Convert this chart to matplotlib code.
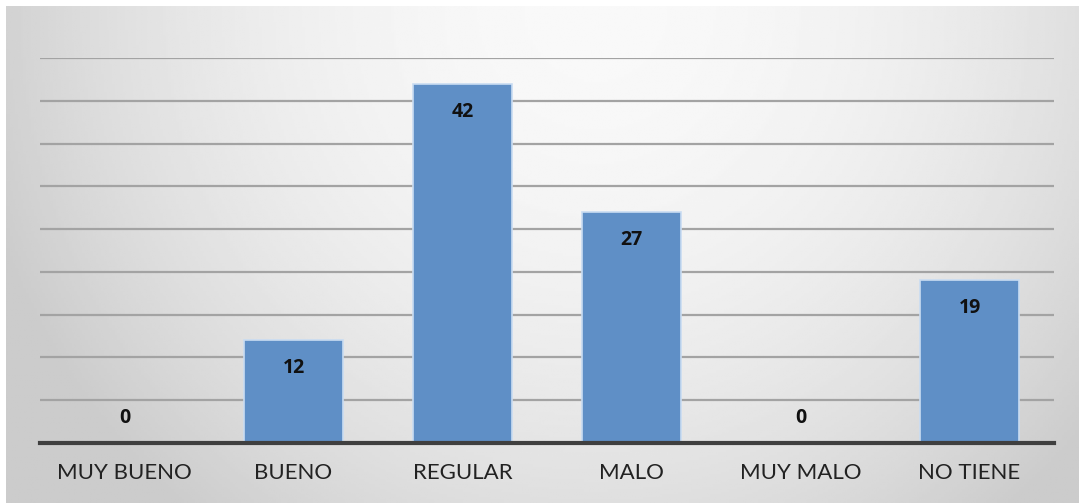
import numpy as np
import matplotlib
matplotlib.use("Agg")
from matplotlib import pyplot as plt

categories = ["MUY BUENO", "BUENO", "REGULAR", "MALO", "MUY MALO", "NO TIENE"]
values = [0, 12, 42, 27, 0, 19]

W, H, DPI = 1079, 503, 100
plt.rcParams['font.family'] = ['Lato', 'DejaVu Sans']

fig = plt.figure(figsize=(W / DPI, H / DPI), dpi=DPI)
fig.patch.set_facecolor("white")

# gray gradient panel behind the chart
bg = fig.add_axes([6 / W, 0, 1 - 6 / W, 1 - 6 / H])
yy, xx = np.mgrid[0:1:200j, 0:1:400j]
shade = 0.975 - 0.15 * ((xx - 0.55) / 0.55) ** 2 - 0.10 * yy ** 2
shade = np.clip(shade, 0.80, 1.0)
bg.imshow(shade, cmap="gray", vmin=0, vmax=1, aspect="auto", extent=[0, 1, 1, 0])
bg.axis("off")

ax = fig.add_axes([40 / W, (H - 443) / H, (1054 - 40) / W, (443 - 58) / H])
ax.patch.set_alpha(0)
x = np.arange(len(categories))
ax.bar(x, values, width=0.59, color="#5f8fc6", edgecolor="#c9dcf2", linewidth=1.2, zorder=3)

for xi, v in zip(x, values):
    off = -28 if v > 0 else 25
    ax.annotate(str(v), (xi, v), xytext=(0, off), textcoords="offset pixels",
                ha="center", va="center", fontsize=14, fontweight="bold",
                family=["Open Sans", "DejaVu Sans"], color="#111111", zorder=4)

ax.set_xlim(-0.5, len(categories) - 0.5)
ax.set_ylim(0, 45)
ax.set_yticks(np.arange(5, 50, 5))
ax.yaxis.grid(True, color="#a3a3a3", linewidth=1.6, zorder=0)
ax.tick_params(axis="y", left=False, labelleft=False)
ax.tick_params(axis="x", bottom=False, labelsize=16, labelcolor="#222222", pad=11)
ax.set_xticks(x)
ax.set_xticklabels(categories)
for s in ["top", "right", "left"]:
    ax.spines[s].set_visible(False)
ax.spines["bottom"].set_color("#3f3f3f")
ax.spines["bottom"].set_linewidth(3)
ax.spines["bottom"].set_zorder(5)

fig.savefig("out.png", dpi=DPI)
